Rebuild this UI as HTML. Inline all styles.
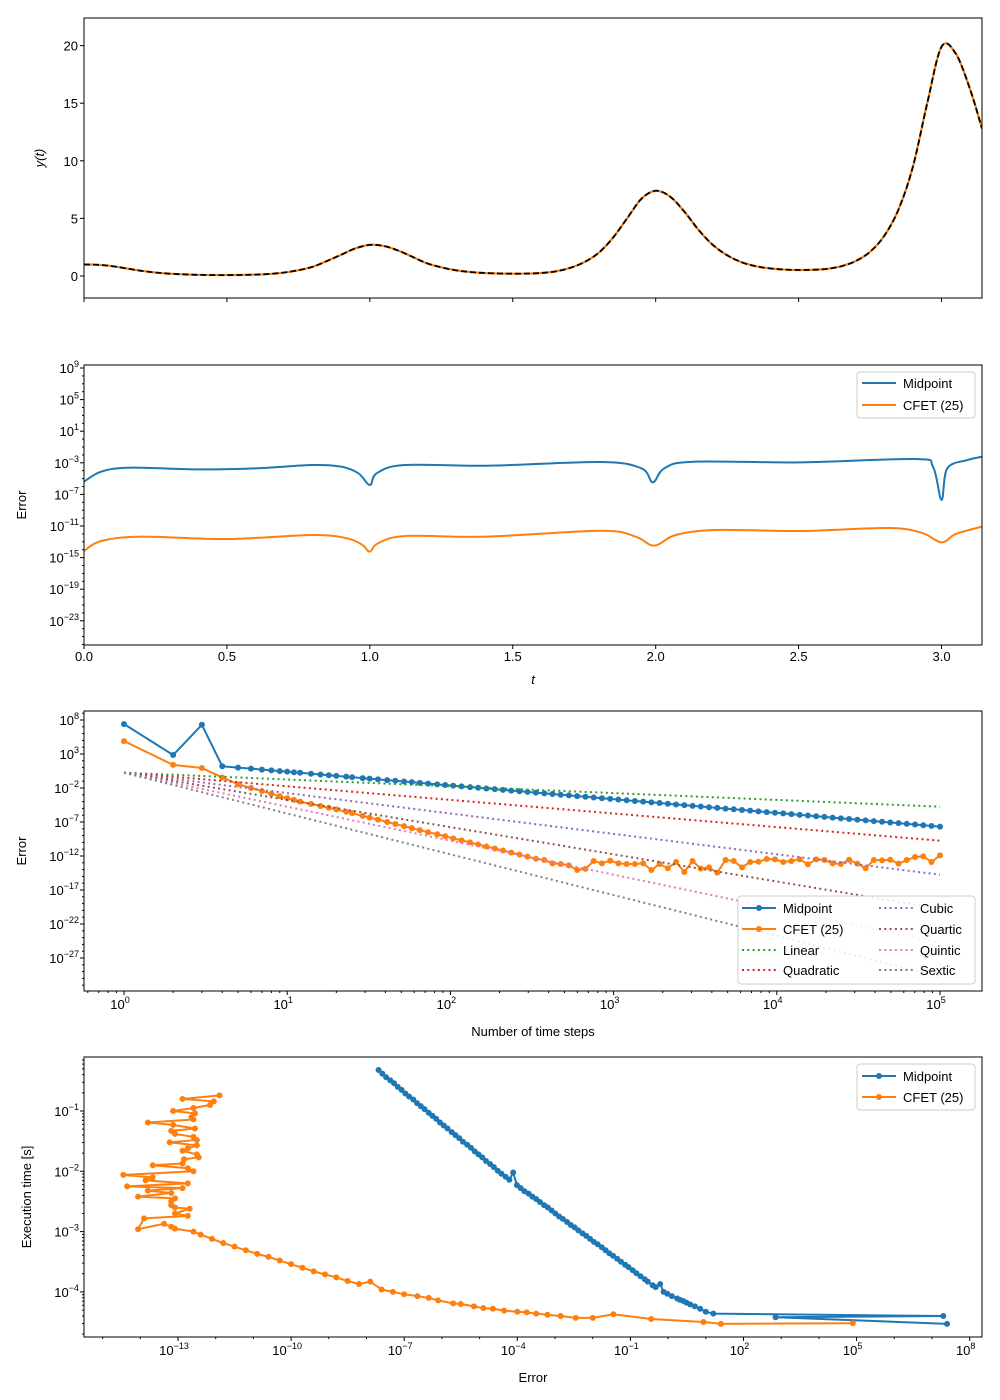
<!DOCTYPE html>
<html><head><meta charset="utf-8"><style>
body{margin:0;background:#fff}
svg{display:block;font-family:"Liberation Sans","DejaVu Sans",sans-serif}
</style></head><body>
<svg id="chart" xmlns="http://www.w3.org/2000/svg" width="1000" height="1400" viewBox="0 0 1000 1400"></svg>
<script>
// ---------- Data ----------
const tSamples = [0,.05,.1,.15,.2,.25,.3,.35,.4,.45,.5,.55,.6,.65,.7,.75,.8,.85,.9,.95,1.0,1.05,1.1,1.15,1.2,1.25,1.3,1.35,1.4,1.45,1.5,1.55,1.6,1.65,1.7,1.75,1.8,1.85,1.9,1.95,2.0,2.05,2.1,2.15,2.2,2.25,2.3,2.35,2.4,2.45,2.5,2.55,2.6,2.65,2.7,2.75,2.8,2.85,2.9,2.95,3.0,3.05,3.1,3.14159];
const ySamples = [1.0,0.97,0.85,0.65,0.45,0.3,0.2,0.14,0.1,0.08,0.08,0.09,0.12,0.18,0.3,0.5,0.8,1.3,1.85,2.4,2.7,2.6,2.2,1.65,1.1,0.75,0.5,0.35,0.26,0.22,0.2,0.21,0.26,0.4,0.7,1.2,2.0,3.3,5.0,6.7,7.4,6.9,5.6,4.0,2.7,1.8,1.2,0.85,0.66,0.56,0.52,0.54,0.62,0.85,1.3,2.1,3.5,5.8,9.5,15.0,19.9,19.3,16.2,12.8];
const midT = [0,.06,.16,.4,.6,.8,.9,.96,1.0,1.024,1.12,1.41,1.81,1.95,1.99,2.03,2.13,2.51,2.91,2.97,3.0,3.02,3.09,3.14159];
const midLogErrT = [-5.39,-4.12,-3.62,-3.83,-3.7,-3.28,-3.49,-4.33,-5.81,-4.33,-3.28,-3.37,-2.9,-3.7,-5.47,-3.7,-2.86,-2.95,-2.52,-3.49,-7.71,-3.7,-2.65,-2.23];
const cfetT = [0,.06,.2,.5,.8,.92,.974,1.0,1.028,1.125,1.406,1.81,1.93,1.995,2.07,2.21,2.51,2.81,2.93,3.0,3.05,3.14159];
const cfetLogErrT = [-14.16,-12.9,-12.35,-12.65,-12.14,-12.56,-13.4,-14.25,-13.2,-12.27,-12.35,-11.6,-12.35,-13.49,-12.14,-11.5,-11.63,-11.25,-11.85,-13.07,-12.0,-11.08];

const steps = [1,2,3,4,5,6,7,8,9,10,11,12,14,16,18,20,23,25,29,32,36,41,46,52,58,65,73,83,93,104,117,132,148,166,187,210,236,265,297,334,376,422,474,532,598,672,755,848,953,1070,1202,1350,1517,1704,1914,2150,2415,2712,3047,3422,3844,4318,4850,5448,6120,6874,7722,8673,9743,10944,12293,13808,15510,17422,19570,21983,24693,27737,31156,34997,39311,44157,49600,55715,62584,70299,78965,88700,100000];
const midErrExp = [7.4,2.85,7.3,1.2,1.0,0.85,0.71,0.59,0.49,0.4,0.31,0.24,0.1,-0.02,-0.12,-0.21,-0.33,-0.41,-0.54,-0.62,-0.73,-0.84,-0.94,-1.05,-1.14,-1.25,-1.35,-1.46,-1.56,-1.66,-1.76,-1.87,-1.97,-2.07,-2.17,-2.27,-2.38,-2.48,-2.58,-2.68,-2.79,-2.89,-2.99,-3.09,-3.19,-3.29,-3.4,-3.5,-3.6,-3.7,-3.81,-3.91,-4.01,-4.11,-4.21,-4.31,-4.42,-4.52,-4.62,-4.72,-4.83,-4.93,-5.03,-5.13,-5.23,-5.33,-5.44,-5.54,-5.64,-5.74,-5.85,-5.95,-6.05,-6.15,-6.25,-6.35,-6.46,-6.56,-6.66,-6.76,-6.87,-6.97,-7.07,-7.17,-7.27,-7.37,-7.48,-7.58,-7.68];
const cfetErrExp = [4.9,1.4,0.94,-0.45,-1.45,-2.0,-2.45,-2.85,-3.2,-3.5,-3.75,-4.0,-4.35,-4.65,-4.9,-5.15,-5.5,-5.7,-6.1,-6.35,-6.65,-7.0,-7.3,-7.6,-7.9,-8.2,-8.5,-8.8,-9.1,-9.4,-9.7,-10.0,-10.3,-10.6,-10.9,-11.2,-11.5,-11.8,-12.1,-12.4,-12.59,-13.08,-13.18,-13.37,-14.06,-13.9,-12.74,-13.08,-12.69,-13.08,-13.18,-13.18,-13.08,-14.06,-13.18,-13.8,-12.88,-14.35,-12.74,-13.86,-13.67,-14.45,-12.59,-12.74,-13.67,-12.88,-12.84,-12.45,-12.5,-12.88,-12.74,-12.5,-13.22,-12.5,-12.59,-13.08,-13.18,-12.55,-13.13,-13.8,-12.59,-12.64,-12.55,-13.13,-12.59,-12.15,-12.05,-12.88,-11.9];
const midTimeExp = [-4.53,-4.42,-4.40,-4.36,-4.33,-4.28,-4.24,-4.21,-4.18,-4.15,-4.13,-4.11,-4.07,-4.03,-4.00,-3.87,-3.92,-3.89,-3.83,-3.79,-3.74,-3.69,-3.64,-3.59,-3.55,-3.50,-3.45,-3.40,-3.36,-3.31,-3.26,-3.21,-3.17,-3.12,-3.07,-3.03,-2.98,-2.93,-2.89,-2.84,-2.79,-2.75,-2.70,-2.65,-2.60,-2.56,-2.51,-2.46,-2.42,-2.37,-2.33,-2.28,-2.23,-2.02,-2.14,-2.09,-2.04,-1.99,-1.93,-1.88,-1.83,-1.77,-1.72,-1.67,-1.61,-1.56,-1.51,-1.45,-1.40,-1.35,-1.29,-1.24,-1.19,-1.13,-1.08,-1.03,-0.97,-0.92,-0.87,-0.81,-0.76,-0.71,-0.65,-0.60,-0.54,-0.49,-0.44,-0.38,-0.32];
const cfetTimeExp = [-4.52,-4.53,-4.50,-4.45,-4.37,-4.43,-4.43,-4.40,-4.38,-4.36,-4.34,-4.33,-4.31,-4.28,-4.27,-4.24,-4.20,-4.19,-4.14,-4.10,-4.07,-4.04,-4.00,-3.96,-3.83,-3.87,-3.82,-3.76,-3.71,-3.66,-3.60,-3.54,-3.48,-3.42,-3.37,-3.31,-3.25,-3.19,-3.12,-3.05,-3.0,-2.95,-2.92,-2.87,-2.96,-2.78,-2.74,-2.70,-2.62,-2.60,-2.56,-2.5,-2.45,-2.42,-2.36,-2.32,-2.28,-2.25,-2.2,-2.15,-2.1,-2.06,-2.0,-1.95,-1.9,-1.87,-1.8,-1.77,-1.72,-1.66,-1.62,-1.57,-1.52,-1.48,-1.43,-1.38,-1.33,-1.29,-1.23,-1.19,-1.14,-1.1,-1.04,-1.0,-0.95,-0.9,-0.84,-0.8,-0.74];
const refOrders = [1,2,3,4,5,6];
const refNames = ["Linear","Quadratic","Cubic","Quartic","Quintic","Sextic"];
const refStartExp = 0.25;

// ---------- helpers ----------
const SVGNS = "http://www.w3.org/2000/svg";
const svg = document.getElementById('chart');
function el(tag, attrs, parent){
  const e = document.createElementNS(SVGNS, tag);
  for (const k in attrs) e.setAttribute(k, attrs[k]);
  (parent || svg).appendChild(e);
  return e;
}
function crPath(pts){
  let d = "M" + pts[0][0].toFixed(2) + "," + pts[0][1].toFixed(2);
  for (let i = 0; i < pts.length - 1; i++){
    const p0 = pts[Math.max(0,i-1)], p1 = pts[i], p2 = pts[i+1], p3 = pts[Math.min(pts.length-1,i+2)];
    const c1x = p1[0] + (p2[0]-p0[0])/6, c1y = p1[1] + (p2[1]-p0[1])/6;
    const c2x = p2[0] - (p3[0]-p1[0])/6, c2y = p2[1] - (p3[1]-p1[1])/6;
    d += "C" + c1x.toFixed(2)+","+c1y.toFixed(2)+" "+c2x.toFixed(2)+","+c2y.toFixed(2)+" "+p2[0].toFixed(2)+","+p2[1].toFixed(2);
  }
  return d;
}
function linPath(pts){ return pts.map((p,i)=>(i?"L":"M")+p[0].toFixed(2)+","+p[1].toFixed(2)).join(""); }
function frame(x0,y0,x1,y1,name){
  const r = el('rect',{x:x0,y:y0,width:x1-x0,height:y1-y0,fill:'none',stroke:'#000','stroke-width':1});
  
  
}
function clip(id,x0,y0,x1,y1){
  const c = el('clipPath',{id:id});
  el('rect',{x:x0,y:y0,width:x1-x0,height:y1-y0},c);
}
function tickY(x, y, len){ el('line',{x1:x,x2:x-len,y1:y,y2:y,stroke:'#000','stroke-width':1}); }
function tickX(x, y, len){ el('line',{x1:x,x2:x,y1:y,y2:y+len,stroke:'#000','stroke-width':1}); }
function txt(x,y,s,anchor,name,extra){
  const t = el('text',Object.assign({x:x,y:y,'font-size':13,'text-anchor':anchor||'middle',fill:'#000'},extra||{}));
  t.textContent = s;
  
  
  return t;
}
function powLabel(x,y,e,anchor,name){
  const t = el('text',{x:x,y:y,'font-size':13,'text-anchor':anchor,fill:'#000'});
  
  
  t.appendChild(document.createTextNode('10'));
  const s = el('tspan',{dy:-6,'font-size':9},t);
  s.textContent = (e<0?'\u2212':'') + Math.abs(e);
}
function rotLabel(x,y,s,name,italic){
  const t = el('text',{x:x,y:y,'font-size':13,'text-anchor':'middle',transform:'rotate(-90 '+x+' '+y+')','font-style':italic?'italic':'normal'});
  t.textContent = s;
  
  
}
function legend(x,y,w,h,entries,name){
  const g = el('g',{});
  
  
  el('rect',{x:x,y:y,width:w,height:h,rx:3,fill:'#fff','fill-opacity':0.85,stroke:'#ccc','stroke-width':1},g);
  entries.forEach(en=>{
    const eg = el('g',{},g);
    
    
    el('line',Object.assign({x1:en.x,x2:en.x+34,y1:en.y,y2:en.y,stroke:en.c,'stroke-width':2},en.dash?{'stroke-dasharray':en.dash}:{}),eg);
    if (en.m) el('circle',{cx:en.x+17,cy:en.y,r:3,fill:en.c},eg);
    const t = el('text',{x:en.x+41,y:en.y+5,'font-size':13},eg);
    t.textContent = en.label;
  });
}
const BLUE='#1f77b4', ORANGE='#ff7f0e';
const refColors=['#2ca02c','#d62728','#9467bd','#8c564b','#e377c2','#7f7f7f'];

// ---------- Panel 1 ----------
const p1x = t => 84 + t/Math.PI*898;
const p1y = v => 276 - v*11.52;
clip('c1',84,18,982,298);
const g1 = el('g',{'clip-path':'url(#c1)'});

const sol = el('path',{d:crPath(tSamples.map((t,i)=>[p1x(t),p1y(ySamples[i])])),fill:'none',stroke:ORANGE,'stroke-width':2.2},g1);


const ex = el('path',{d:crPath(tSamples.map((t,i)=>[p1x(t),p1y(ySamples[i])])),fill:'none',stroke:'#000','stroke-width':1.8,'stroke-dasharray':'6,3'},g1);


frame(84,18,982,298,'top-plot-frame');
[0,5,10,15,20].forEach(v=>{ tickY(84,p1y(v),4); txt(78,p1y(v)+5,String(v),'end','y-tick-label'); });
[0,.5,1,1.5,2,2.5,3].forEach(t=>tickX(p1x(t),298,4));
rotLabel(44,158,'y(t)','y-axis-title',true);

// ---------- Panel 2 ----------
const p2y = L => 368 + (9-L)*7.9;
clip('c2',84,365,982,645);
const g2 = el('g',{'clip-path':'url(#c2)'});
const e2a = el('path',{d:crPath(midT.map((t,i)=>[p1x(t),p2y(midLogErrT[i])])),fill:'none',stroke:BLUE,'stroke-width':2},g2);


const e2b = el('path',{d:crPath(cfetT.map((t,i)=>[p1x(t),p2y(cfetLogErrT[i])])),fill:'none',stroke:ORANGE,'stroke-width':2},g2);


frame(84,365,982,645,'error-time-frame');
for (let L=-26; L<=9; L++){ if ((L-1)%4===0){ tickY(84,p2y(L),4); powLabel(79,p2y(L)+5,L,'end','y-tick-label'); } else tickY(84,p2y(L),2); }
[0,.5,1,1.5,2,2.5,3].forEach(t=>{ tickX(p1x(t),645,4); txt(p1x(t),661,t.toFixed(1),'middle','x-tick-label'); });
txt(533,684,'t','middle','x-axis-title',{'font-style':'italic'});
rotLabel(26,505,'Error','y-axis-title');
legend(857,372,118,46,[{x:862,y:383,c:BLUE,label:'Midpoint'},{x:862,y:405,c:ORANGE,label:'CFET (25)'}],'legend');

// ---------- Panel 3 ----------
const p3x = L => 124 + L*163.2;
const p3y = L => 720 + (8-L)*6.8;
clip('c3',84,711,982,991);
const g3 = el('g',{'clip-path':'url(#c3)'});
function series(g, xs, ys, color, name){
  const pts = xs.map((x,i)=>[x, ys[i]]);
  const p = el('path',{d:linPath(pts),fill:'none',stroke:color,'stroke-width':2,'stroke-linejoin':'round'},g);
  
  
  pts.forEach(pt=>{
    const c = el('circle',{cx:pt[0].toFixed(2),cy:pt[1].toFixed(2),r:3,fill:color},g);
    
    
  });
}
series(g3, steps.map(n=>p3x(Math.log10(n))), midErrExp.map(p3y), BLUE, 'midpoint-convergence');
series(g3, steps.map(n=>p3x(Math.log10(n))), cfetErrExp.map(p3y), ORANGE, 'cfet-convergence');
refOrders.forEach((k,i)=>{
  const n0 = steps[0], n1 = steps[steps.length-1];
  const l = el('line',{x1:p3x(Math.log10(n0)),y1:p3y(refStartExp - k*Math.log10(n0)),x2:p3x(Math.log10(n1)),y2:p3y(refStartExp - k*Math.log10(n1)),stroke:refColors[i],'stroke-width':2,'stroke-dasharray':'2,3.3'},g3);
  
  
});
frame(84,711,982,991,'convergence-frame');
for (let L=-31; L<=9; L++){ if ((L-8)%5===0){ tickY(84,p3y(L),4); powLabel(79,p3y(L)+5,L,'end','y-tick-label'); } else tickY(84,p3y(L),2); }
for (let d=-1; d<=5; d++){
  if (d>=0){ tickX(p3x(d),991,4); powLabel(p3x(d)-4,1009,d,'middle','x-tick-label'); }
  for (let m=2;m<=9;m++){ const L=d+Math.log10(m); if (L>-0.245 && L<5.257) tickX(p3x(L),991,2); }
}
txt(533,1036,'Number of time steps','middle','x-axis-title');
rotLabel(26,851,'Error','y-axis-title');
legend(738,896,237,88,[
  {x:742,y:908,c:BLUE,m:1,label:'Midpoint'},{x:742,y:929,c:ORANGE,m:1,label:'CFET (25)'},
  {x:742,y:950,c:refColors[0],dash:'2,3.3',label:'Linear'},{x:742,y:970,c:refColors[1],dash:'2,3.3',label:'Quadratic'},
  {x:879,y:908,c:refColors[2],dash:'2,3.3',label:'Cubic'},{x:879,y:929,c:refColors[3],dash:'2,3.3',label:'Quartic'},
  {x:879,y:950,c:refColors[4],dash:'2,3.3',label:'Quintic'},{x:879,y:970,c:refColors[5],dash:'2,3.3',label:'Sextic'}],'convergence-legend');

// ---------- Panel 4 ----------
const p4x = L => 178 + (L+13)*37.7;
const p4y = L => 1111 + (-1-L)*60.3;
clip('c4',84,1057,982,1337);
const g4 = el('g',{'clip-path':'url(#c4)'});
series(g4, midErrExp.map(p4x), midTimeExp.map(p4y), BLUE, 'midpoint-timing');
series(g4, cfetErrExp.map(p4x), cfetTimeExp.map(p4y), ORANGE, 'cfet-timing');
frame(84,1057,982,1337,'timing-frame');
for (let d=-5; d<=-1; d++){
  if (d>=-4){ tickY(84,p4y(d),4); powLabel(79,p4y(d)+5,d,'end','y-tick-label'); }
  for (let m=2;m<=9;m++){ const L=d+Math.log10(m); if (L>-4.75 && L<-0.1) tickY(84,p4y(L),2); }
}
for (let d=-15; d<=8; d++){
  if ((d+13)%3===0){ tickX(p4x(d),1337,4); powLabel(p4x(d)-4,1355,d,'middle','x-tick-label'); }
  else tickX(p4x(d),1337,2);
}
txt(533,1382,'Error','middle','x-axis-title');
rotLabel(31,1197,'Execution time [s]','y-axis-title');
legend(857,1064,118,46,[{x:862,y:1076,c:BLUE,m:1,label:'Midpoint'},{x:862,y:1097,c:ORANGE,m:1,label:'CFET (25)'}],'timing-legend');
</script>
</body></html>
